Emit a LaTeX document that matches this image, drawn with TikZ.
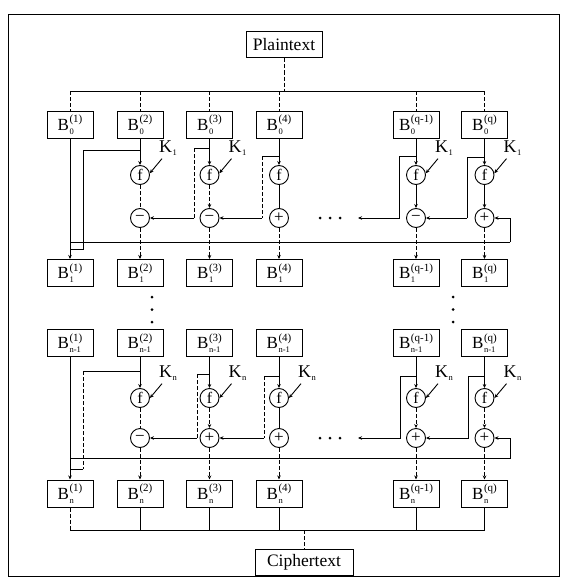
\documentclass[tikz,border=0pt]{standalone}
\usepackage{fontspec}
\setmainfont{Liberation Serif}
\usetikzlibrary{arrows.meta}
\newcommand{\supf}{\fontsize{11}{11}\selectfont}
\newcommand{\subf}{\fontsize{8.5}{8.5}\selectfont}
\newcommand{\blk}[2]{B\kern0.6pt\rlap{\raisebox{-3.8pt}{\subf #2}}\raisebox{7.8pt}{\supf(#1)}}
\newcommand{\kk}[1]{K\kern0.3pt\raisebox{-3pt}{\subf #1}}
\begin{document}
\begin{tikzpicture}[x=1pt,y=-1pt,
  box/.style={draw,line width=1pt,minimum width=46pt,minimum height=27pt,inner sep=0pt,font=\fontsize{17}{19}\selectfont},
  io/.style={draw,line width=1pt,minimum height=26pt,inner sep=0pt,font=\fontsize{17.5}{20}\selectfont},
  fun/.style={draw,circle,line width=0.9pt,minimum size=19pt,inner sep=0pt,font=\fontsize{16}{16}\selectfont},
  op/.style={fun,font=\fontsize{17}{17}\selectfont},
  key/.style={inner sep=0pt,font=\fontsize{18}{18}\selectfont},
  ln/.style={line width=0.9pt},
  dl/.style={line width=0.9pt,dash pattern=on 4pt off 2pt},
  arr/.style={-{Stealth[length=4pt,width=3.5pt]}},
  dot/.style={circle,fill,inner sep=0pt,minimum size=3pt},
]
\useasboundingbox (0,0) rectangle (565,578);
\draw[line width=1pt] (8,15) rectangle (559,576);

% input / output
\node[io,minimum width=76pt] (pt) at (284,45) {Plaintext};
\node[io,minimum width=98pt] (ct) at (304,562) {Ciphertext};

% block rows
\foreach \n/\x/\s in {1/70/1,2/140/2,3/209.5/3,4/279/4,5/416/q-1,6/484.5/q}{
  \node[box] (a\n) at (\x,125) {\blk{\s}{0}};
  \node[box] (b\n) at (\x,273) {\blk{\s}{1}};
  \node[box] (c\n) at (\x,343) {\blk{\s}{n-1}};
  \node[box] (d\n) at (\x,493.5) {\blk{\s}{n}};
}

% distribution from plaintext
\coordinate (tp) at (284,91);
\coordinate (tl) at (70,91);
\coordinate (tr) at (484.5,91);
\draw[dl] (pt.south) -- (tp);
\draw[ln] (tl) -- (tr);
\foreach \n in {1,...,6} \draw[dl] (a\n.north |- tl) -- (a\n.north);

% ===== round 1 =====
\foreach \n/\x/\s in {2/140/−,3/209.5/−,4/279/+,5/416/−,6/484.5/+}{
  \node[fun] (f\n) at (\x,175) {f};
  \node[op] (o\n) at (\x,218) {\s};
}
\foreach \n/\x in {2/140,3/209.5,5/416,6/484.5}{
  \node[key] (k\n) at (\x+28,148) {\kk{1}};
  \draw[ln,arr] ([shift={(3,3)}]k\n.south west) -- (f\n.10);
}
\coordinate (j2) at (140,150);
\coordinate (j3) at (209.5,148);
\coordinate (j4) at (279,156);
\coordinate (j5) at (416,156);
\coordinate (j6) at (484.5,157);
\foreach \n in {2,...,6}{
  \draw[ln] (a\n.south) -- (j\n);
  \draw[ln,arr] (j\n) -- (f\n.north);
}
\coordinate (u3) at (194,148);   \coordinate (h3) at (194,218);
\coordinate (u4) at (262,156);   \coordinate (h4) at (262,218);
\coordinate (u5) at (399.5,156); \coordinate (h5) at (399.5,218);
\coordinate (u6) at (467,157);   \coordinate (h6) at (467,218);
\coordinate (z1) at (358,218);
\draw[ln] (j3) -- (u3); \draw[dl] (u3) -- (h3); \draw[ln,arr] (h3) -- (o2.east);
\draw[ln] (j4) -- (u4); \draw[dl] (u4) -- (h4); \draw[ln,arr] (h4) -- (o3.east);
\draw[ln] (j5) -- (u5) -- (h5); \draw[ln,arr] (h5) -- (z1);
\draw[ln] (j6) -- (u6) -- (h6); \draw[ln,arr] (h6) -- (o5.east);
% first column and wrap-around
\coordinate (v2) at (83,150);
\coordinate (e1) at (83,249);
\coordinate (e0) at (70,249);
\draw[ln] (j2) -- (v2) -- (e1) -- (e0);
\draw[ln] (a1.south) -- (e0);
\draw[ln,arr] (e0) -- (b1.north);
\coordinate (w0) at (70,242);
\coordinate (w1) at (510,242);
\draw[ln] (w0) -- (w1);
\draw[ln,arr] (w1) |- (o6.east);
% f -> op
\draw[dl] (f2.south) -- (o2.north);
\draw[dl,arr] (f3.south) -- (o3.north);
\draw[ln] (f4.south) -- (o4.north);
\draw[ln,arr] (f5.south) -- (o5.north);
\draw[ln,arr] (f6.south) -- (o6.north);
\foreach \n in {2,...,6} \draw[dl,arr] (o\n.south) -- (b\n.north);
% dots
\foreach \x in {320,330,340} \node[dot] at (\x,218) {};

% vertical ellipses between rounds
\foreach \y in {297,309.5,322}{
  \node[dot] at (152,\y) {};
  \node[dot] at (453,\y) {};
}

% ===== round n =====
\foreach \n/\x/\s in {2/140/−,3/209.5/+,4/279/+,5/416/+,6/484.5/+}{
  \node[fun] (g\n) at (\x,398) {f};
  \node[op] (p\n) at (\x,438) {\s};
  \node[key] (m\n) at (\x+28,373) {\kk{n}};
  \draw[ln,arr] ([shift={(3,3)}]m\n.south west) -- (g\n.0);
}
\coordinate (i2) at (140,371);
\coordinate (i3) at (209.5,374);
\coordinate (i4) at (279,376);
\coordinate (i5) at (416,376);
\coordinate (i6) at (484.5,376);
\foreach \n in {2,...,6}{
  \draw[ln] (c\n.south) -- (i\n);
  \draw[ln,arr] (i\n) -- (g\n.north);
}
\coordinate (s3) at (197,374);   \coordinate (r3) at (197,438);
\coordinate (s4) at (264,376);   \coordinate (r4) at (264,438);
\coordinate (s5) at (400.5,376); \coordinate (r5) at (400.5,438);
\coordinate (s6) at (468.5,376); \coordinate (r6) at (468.5,438);
\coordinate (z2) at (358,438);
\draw[ln] (i3) -- (s3); \draw[dl] (s3) -- (r3); \draw[ln,arr] (r3) -- (p2.east);
\draw[ln] (i4) -- (s4); \draw[dl] (s4) -- (r4); \draw[ln,arr] (r4) -- (p3.east);
\draw[ln] (i5) -- (s5) -- (r5); \draw[ln,arr] (r5) -- (z2);
\draw[ln] (i6) -- (s6) -- (r6); \draw[ln,arr] (r6) -- (p5.east);
\coordinate (x2) at (83,371);
\coordinate (y1) at (83,469);
\coordinate (y0) at (70,469);
\draw[ln] (i2) -- (x2); \draw[dl] (x2) -- (y1); \draw[ln] (y1) -- (y0);
\draw[ln] (c1.south) -- (y0);
\draw[ln,arr] (y0) -- (d1.north);
\coordinate (w2) at (70,458);
\coordinate (w3) at (510.5,458);
\draw[ln] (w2) -- (w3);
\draw[ln,arr] (w3) |- (p6.east);
\draw[dl] (g2.south) -- (p2.north);
\draw[dl,arr] (g3.south) -- (p3.north);
\draw[ln] (g4.south) -- (p4.north);
\draw[dl,arr] (g5.south) -- (p5.north);
\draw[dl,arr] (g6.south) -- (p6.north);
\foreach \n in {2,...,6} \draw[dl,arr] (p\n.south) -- (d\n.north);
\foreach \x in {320,330,340} \node[dot] at (\x,438) {};

% collection to ciphertext
\coordinate (q1) at (70,530);
\coordinate (q6) at (484.5,530);
\draw[ln] (q1) -- (q6);
\draw[dl] (d1.south) -- (q1);
\foreach \n in {2,...,6} \draw[ln] (d\n.south) -- (d\n.south |- q1);
\draw[dl] (ct.north |- q1) -- (ct.north);
\end{tikzpicture}
\end{document}
